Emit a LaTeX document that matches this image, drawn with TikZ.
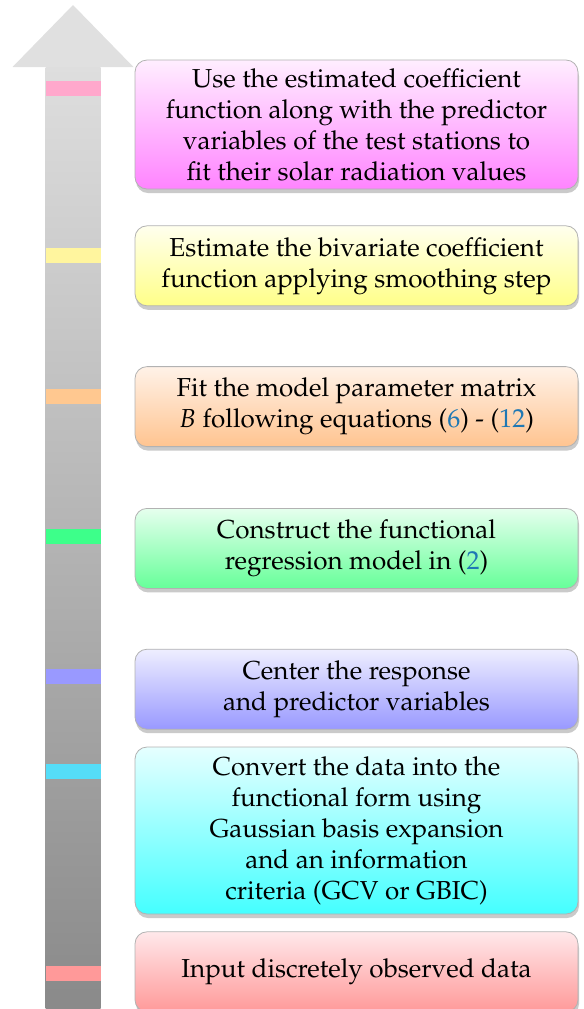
\documentclass[tikz,border=0pt]{standalone}
\usepackage[T1]{fontenc}
\usepackage{mathpazo}
\usepackage{tikz}
\usetikzlibrary{positioning, shadows}
\definecolor{refBlue}{HTML}{1F78B4}
\definecolor{magentaTop}{HTML}{FFEEFF}
\definecolor{magentaBot}{HTML}{FF84FF}
\definecolor{yellowTop}{HTML}{FFFFEE}
\definecolor{yellowBot}{HTML}{FFFF88}
\definecolor{orangeTop}{HTML}{FFF2E8}
\definecolor{orangeBot}{HTML}{FFC490}
\definecolor{greenTop}{HTML}{E6FFEE}
\definecolor{greenBot}{HTML}{66FF99}
\definecolor{blueTop}{HTML}{EEEEFF}
\definecolor{blueBot}{HTML}{9999FF}
\definecolor{cyanTop}{HTML}{E6FFFF}
\definecolor{cyanBot}{HTML}{44FFFF}
\definecolor{redTop}{HTML}{FFE8EA}
\definecolor{redBot}{HTML}{FF9999}
\definecolor{pinkBand}{HTML}{FFA8CC}
\definecolor{yellowBand}{HTML}{FFF59E}
\definecolor{orangeBand}{HTML}{FFC890}
\definecolor{greenBand}{HTML}{3DFF8A}
\definecolor{blueBand}{HTML}{9999FF}
\definecolor{cyanBand}{HTML}{55DDF8}
\definecolor{redBand}{HTML}{FF9999}
\tikzstyle{stepbox} =[draw=gray!60, rounded corners=6pt, align=center, minimum width=221.5pt, inner sep=2pt, font=\fontsize{13}{15.5}\selectfont, drop shadow={shadow xshift=0.5pt, shadow yshift=-2pt, fill=gray!70, opacity=0.6}]
\tikzstyle{band} =[minimum width=27.5pt, minimum height=7.5pt, inner sep=0pt, outer sep=0pt]

\begin{document}
\begin{tikzpicture}[x=0.5pt, y=-0.5pt]
\useasboundingbox (0,0) rectangle (584,1009);

%arrow
\fill[gray!24] (12.5,67) -- (73,5) -- (133.5,67) -- cycle;
\node (shaft) [minimum width=27.5pt, minimum height=470.5pt, inner sep=0pt, top color=gray!26, bottom color=gray!92, anchor=north] at (73,67) {};

\node (useBand) [band, fill=pinkBand] at (73,88) {};
\node (estBand) [band, fill=yellowBand] at (73,255.5) {};
\node (fitBand) [band, fill=orangeBand] at (73,396.5) {};
\node (conBand) [band, fill=greenBand] at (73,536.5) {};
\node (cenBand) [band, fill=blueBand] at (73,676.5) {};
\node (cvtBand) [band, fill=cyanBand] at (73,771.5) {};
\node (inBand) [band, fill=redBand] at (73,973) {};

%steps
\node (useStep) [stepbox, minimum height=64.5pt, top color=magentaTop, bottom color=magentaBot] at (356.5,124.5) {Use the estimated coefficient\\function along with the predictor\\variables of the test stations to\\fit their solar radiation values};

\node (estStep) [stepbox, minimum height=40pt, top color=yellowTop, bottom color=yellowBot, below=18pt of useStep] {Estimate the bivariate coefficient\\function applying smoothing step};

\node (fitStep) [stepbox, minimum height=40pt, top color=orangeTop, bottom color=orangeBot, below=30pt of estStep] {Fit the model parameter matrix\\$B$ following equations (\textcolor{refBlue}{6}) - (\textcolor{refBlue}{12})};

\node (conStep) [stepbox, minimum height=40pt, top color=greenTop, bottom color=greenBot, below=30.5pt of fitStep] {Construct the functional\\regression model in (\textcolor{refBlue}{2})};

\node (cenStep) [stepbox, minimum height=40pt, top color=blueTop, bottom color=blueBot, below=30pt of conStep] {Center the response\\and predictor variables};

\node (cvtStep) [stepbox, minimum height=83.5pt, top color=cyanTop, bottom color=cyanBot, below=8.5pt of cenStep] {Convert the data into the\\functional form using\\Gaussian basis expansion\\and an information\\criteria (GCV or GBIC)};

\node (inStep) [stepbox, minimum height=40pt, top color=redTop, bottom color=redBot, below=8.5pt of cvtStep] {Input discretely observed data};
\end{tikzpicture}
\end{document}
